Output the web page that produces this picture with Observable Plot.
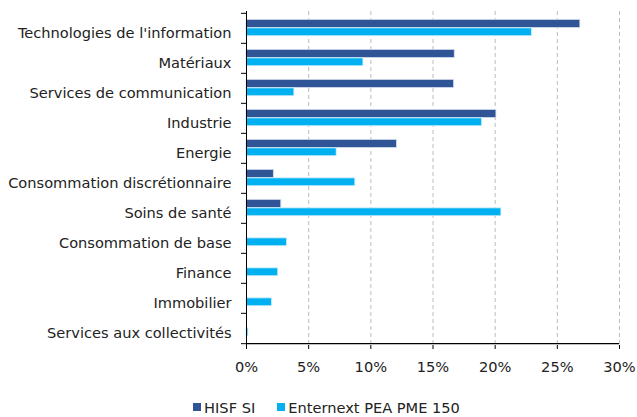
<!DOCTYPE html>
<html><head><meta charset="utf-8">
<script src="https://cdn.jsdelivr.net/npm/d3@7"></script>
<script src="https://cdn.jsdelivr.net/npm/@observablehq/plot@0.6"></script>
<style>
body{margin:0;background:#fff;font-family:"DejaVu Sans",Verdana,sans-serif;color:#222;}
#legend{display:flex;justify-content:center;align-items:center;font-size:14.6px;height:20px;padding-top:17px;margin-left:16px;}
#legend .item{display:flex;align-items:center;margin:0 11px;}
#legend .sw{width:8px;height:8px;margin-right:3px;}
</style></head><body>
<div id="chart"></div>
<div id="legend"></div>
<script>
const categories = ["Technologies de l'information","Matériaux","Services de communication","Industrie","Energie","Consommation discrétionnaire","Soins de santé","Consommation de base","Finance","Immobilier","Services aux collectivités"];
const hisf = [26.85, 16.75, 16.7, 20.1, 12.1, 2.2, 2.8, 0, 0, 0, 0];
const enternext = [22.95, 9.4, 3.85, 18.95, 7.25, 8.75, 20.5, 3.25, 2.55, 2.05, 0.15];
const xTicks = [0, 5, 10, 15, 20, 25, 30];
const seriesNames = ["HISF SI", "Enternext PEA PME 150"];
const colors = ["#2F5597", "#00B0F0"];

const W = 637, H = 380, mt = 11, mb = 35, ml = 246, mr = 18;
const bw = (H - mt - mb) / categories.length;

const dataH = categories.map((c, i) => ({cat: c, v: hisf[i]})).filter(d => d.v > 0);
const dataE = categories.map((c, i) => ({cat: c, v: enternext[i]})).filter(d => d.v > 0);

const chart = Plot.plot({
  width: W, height: H,
  marginTop: mt, marginBottom: mb, marginLeft: ml, marginRight: mr,
  style: {fontSize: "14.6px", fontFamily: "'DejaVu Sans', Verdana, sans-serif", color: "#222", background: "#fff"},
  x: {domain: [0, 30], ticks: xTicks, tickFormat: d => d + "%"},
  y: {domain: categories, padding: 0},
  marks: [
    Plot.ruleX(xTicks.slice(1), {stroke: "#bdbdbd", strokeDasharray: "4,3", strokeWidth: 1}),
    Plot.barX(dataH, {x: "v", y: "cat", fill: colors[0], insetTop: bw * 0.21, insetBottom: bw * 0.51, stroke: "#d6deee", strokeWidth: 0.8}),
    Plot.barX(dataE, {x: "v", y: "cat", fill: colors[1], insetTop: bw * 0.49, insetBottom: bw * 0.24, stroke: "#c8ecfb", strokeWidth: 0.8}),
    Plot.ruleX([0], {stroke: "#000", strokeWidth: 1}),
    Plot.ruleY([categories[categories.length - 1]], {dy: bw / 2, stroke: "#000", strokeWidth: 1.2}),
    Plot.axisY({tickSize: 0, tickPadding: 15, dy: 5, label: null, fill: "#222"}),
    Plot.axisY(categories, {text: null, tickSize: 5, dy: -bw / 2, stroke: "#000", label: null}),
    Plot.axisY([categories[categories.length - 1]], {text: null, tickSize: 5, dy: bw / 2, stroke: "#000", label: null}),
    Plot.axisX({ticks: xTicks, tickFormat: d => d + "%", tickSize: 4, tickPadding: 12, label: null, stroke: "#000", fill: "#222"})
  ]
});
document.getElementById("chart").appendChild(chart);

const lg = document.getElementById("legend");
seriesNames.forEach((n, i) => {
  const it = document.createElement("div"); it.className = "item";
  const sw = document.createElement("div"); sw.className = "sw"; sw.style.background = colors[i];
  const t = document.createElement("span"); t.textContent = n;
  it.appendChild(sw); it.appendChild(t); lg.appendChild(it);
});
</script>
</body></html>
